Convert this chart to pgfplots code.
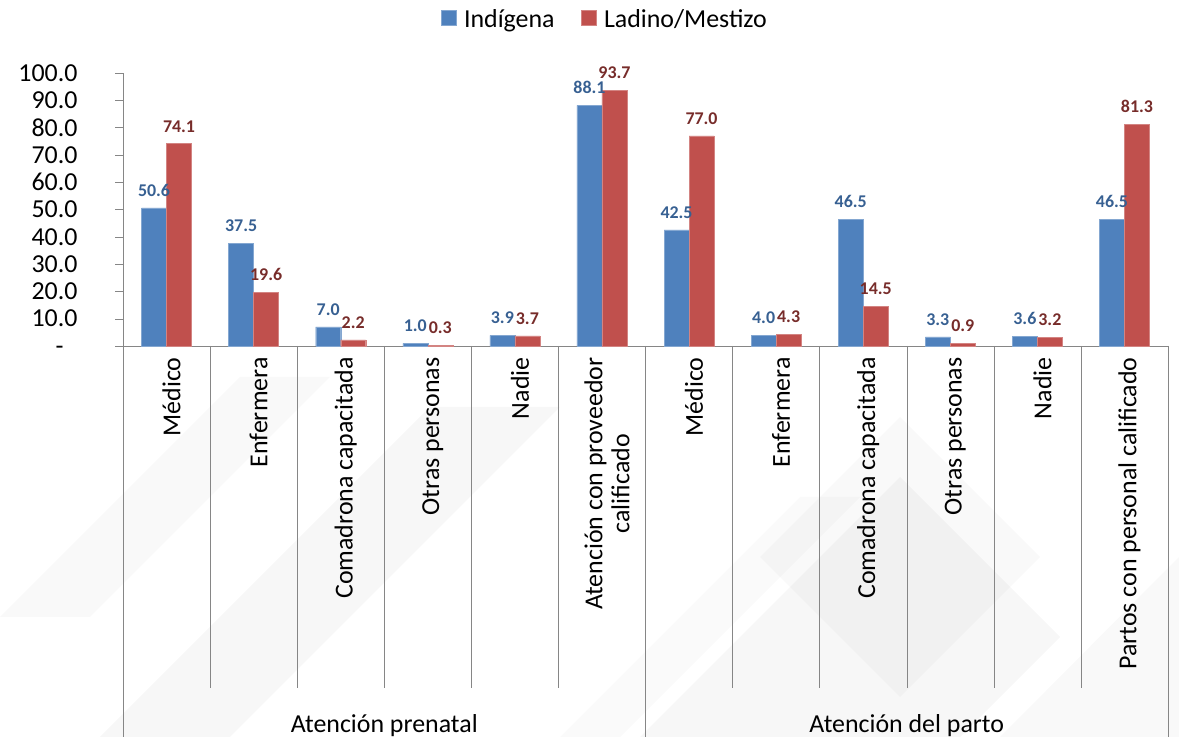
\documentclass[border=0pt]{standalone}
\usepackage{pgfplots}
\pgfplotsset{compat=1.18}
\usepackage{fontspec}
\setmainfont{Carlito}
\definecolor{barblue}{HTML}{4F81BD}
\definecolor{barred}{HTML}{C0504D}
\definecolor{lblblue}{HTML}{376092}
\definecolor{lblred}{HTML}{772C2A}
\definecolor{axgray}{HTML}{868686}
\begin{document}
\begin{tikzpicture}[x=1bp,y=1bp]
\useasboundingbox (0,0) rectangle (1179,737);
% faint watermark shapes in the background
\fill[black,opacity=0.03] (100,0) -- (430,330) -- (560,330) -- (230,0) -- cycle;
\fill[black,opacity=0.025] (0,120) -- (240,360) -- (330,360) -- (90,120) -- cycle;
\fill[black,opacity=0.03] (640,0) -- (900,260) -- (1060,100) -- (960,0) -- cycle;
\fill[black,opacity=0.025] (760,180) -- (900,320) -- (1040,180) -- (900,40) -- cycle;
\fill[black,opacity=0.025] (1000,0) -- (1179,180) -- (1179,0) -- cycle;
\fill[black,opacity=0.02] (560,0) -- (800,240) -- (860,240) -- (620,0) -- cycle;
\begin{axis}[
  at={(123bp,391bp)}, anchor=south west,
  scale only axis,
  width=1045bp, height=273bp,
  ybar=0pt,
  bar width=25bp,
  xmin=-0.5, xmax=11.5,
  ymin=0, ymax=100,
  axis x line*=bottom,
  axis y line*=left,
  axis line style={axgray},
  ytick={10,20,...,100},
  yticklabels={10.0,20.0,30.0,40.0,50.0,60.0,70.0,80.0,90.0,100.0},
  extra y ticks={0},
  extra y tick labels={-},
  extra y tick style={yticklabel style={xshift=-14bp, yshift=-4bp}},
  y tick label style={font=\fontsize{26}{28}\selectfont, xshift=-34bp, inner ysep=1bp},
  ytick style={axgray},
  tick align=outside,
  major tick length=8bp,
  xtick={0,...,11},
  xtick style={draw=none},
  xticklabels={M\'edico,Enfermera,Comadrona capacitada,Otras personas,Nadie,{Atenci\'on con proveedor\\calificado},M\'edico,Enfermera,Comadrona capacitada,Otras personas,Nadie,Partos con personal calificado},
  x tick label style={rotate=90, anchor=east, align=center,
    font=\fontsize{26}{27}\selectfont, yshift=-5bp},
  /pgf/number format/assume math mode=true,
  nodes near coords={\pgfmathprintnumber[fixed,fixed zerofill,precision=1]{\pgfplotspointmeta}},
  nodes near coords style={font=\bfseries\fontsize{18}{20}\selectfont, anchor=south, yshift=8bp},
  legend columns=2,
  legend style={at={(0.461,1)}, anchor=south, yshift=40bp, draw=none,
    fill=none, font=\fontsize{26}{28}\selectfont,
    /tikz/every even column/.append style={column sep=24bp}},
  legend image code/.code={\fill[#1] (0bp,-6bp) rectangle (15bp,9bp); \path (21bp,0bp);},
  clip=false,
]
\addplot[fill=barblue, draw=barblue!70!white, every node near coord/.append style={text=lblblue}]
  coordinates {(0,50.6)(1,37.5)(2,7.0)(3,1.0)(4,3.9)(5,88.1)(6,42.5)(7,4.0)(8,46.5)(9,3.3)(10,3.6)(11,46.5)};
\addplot[fill=barred, draw=barred!70!white, every node near coord/.append style={text=lblred}]
  coordinates {(0,74.1)(1,19.6)(2,2.2)(3,0.3)(4,3.7)(5,93.7)(6,77.0)(7,4.3)(8,14.5)(9,0.9)(10,3.2)(11,81.3)};
\legend{Ind\'igena,Ladino/Mestizo}
\pgfplotsinvokeforeach{0.5,1.5,2.5,3.5,4.5,6.5,7.5,8.5,9.5,10.5}{
  \draw[axgray] (axis cs:#1,0) -- ++(0pt,-342bp);
}
\pgfplotsinvokeforeach{-0.5,5.5,11.5}{
  \draw[axgray] (axis cs:#1,0) -- ++(0pt,-400bp);
}
\node[font=\fontsize{26}{28}\selectfont, anchor=base] at ([yshift=-386bp]axis cs:2.5,0) {Atenci\'on prenatal};
\node[font=\fontsize{26}{28}\selectfont, anchor=base] at ([yshift=-386bp]axis cs:8.5,0) {Atenci\'on del parto};
\end{axis}
\end{tikzpicture}
\end{document}
